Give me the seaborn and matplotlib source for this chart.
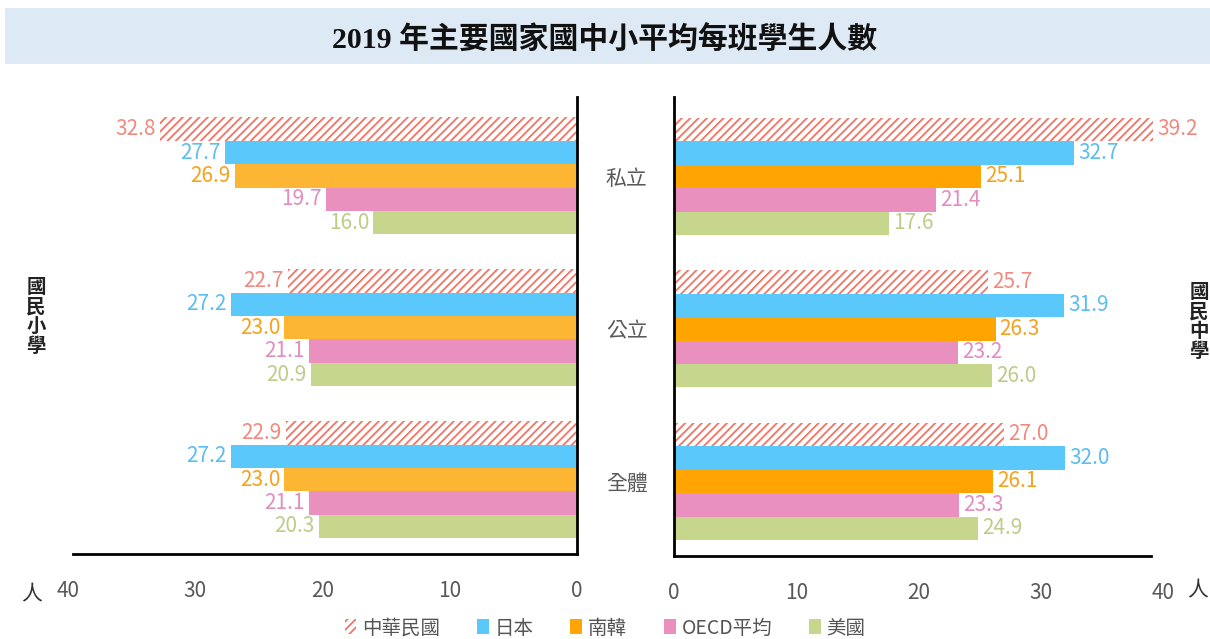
import pandas as pd
import seaborn as sns
import matplotlib.pyplot as plt
from matplotlib.patches import Patch, Rectangle

# ============ 資料 ============
schools = ["私立", "公立", "全體"]
countries = ["中華民國", "日本", "南韓", "OECD平均", "美國"]

# 國民小學 (左)
primary_twn = [32.8, 22.7, 22.9]
primary_jpn = [27.7, 27.2, 27.2]
primary_kor = [26.9, 23.0, 23.0]
primary_oecd = [19.7, 21.1, 21.1]
primary_usa = [16.0, 20.9, 20.3]

# 國民中學 (右)
junior_twn = [39.2, 25.7, 27.0]
junior_jpn = [32.7, 31.9, 32.0]
junior_kor = [25.1, 26.3, 26.1]
junior_oecd = [21.4, 23.2, 23.3]
junior_usa = [17.6, 26.0, 24.9]

x_ticks = [0, 10, 20, 30, 40]

bar_colors_left = ["#ffffff", "#5bc8fb", "#fdb534", "#ea90bf", "#c6d68c"]
bar_colors_right = ["#ffffff", "#5bc8fb", "#ffa400", "#ea90bf", "#c6d68c"]
label_colors = ["#f08a7e", "#5bbdf0", "#f5a21c", "#e38cc0", "#bccd8a"]
hatch_color = "#f27465"


def make_frame(vals):
    rows = []
    for country, series in zip(countries, vals):
        for school, v in zip(schools, series):
            rows.append({"school": school, "country": country, "value": v})
    return pd.DataFrame(rows)


df_left = make_frame([primary_twn, primary_jpn, primary_kor, primary_oecd, primary_usa])
df_right = make_frame([junior_twn, junior_jpn, junior_kor, junior_oecd, junior_usa])

sns.set_style("white")
plt.rcParams["font.family"] = ["Noto Sans CJK TC", "DejaVu Sans"]
plt.rcParams["hatch.linewidth"] = 1.3

fig = plt.figure(figsize=(12.1, 6.39), dpi=100)

# 標題區塊
fig.patches.append(Rectangle((5 / 1210, 1 - 64 / 639), 1205 / 1210, 56 / 639,
                             transform=fig.transFigure, facecolor="#dde9f5",
                             edgecolor="none", zorder=0))
fig.text(0.5, 1 - 40 / 639, "2019 年主要國家國中小平均每班學生人數",
         family=["Liberation Serif", "Noto Sans CJK TC"], fontweight="bold",
         fontsize=21.5, ha="center", va="center", color="#111111")

ax_l = fig.add_axes([68 / 1210, 1 - 554 / 639, 509 / 1210, 457 / 639])
ax_r = fig.add_axes([674 / 1210, 1 - 556 / 639, 489 / 1210, 459 / 639])


def draw_side(ax, df, palette, inverted):
    sns.barplot(data=df, y="school", x="value", hue="country", order=schools,
                hue_order=countries, palette=palette, orient="h", width=0.77,
                legend=False, ax=ax, saturation=1, linewidth=0)
    # 中華民國用斜線
    for bar in ax.containers[0]:
        bar.set_facecolor("white")
        bar.set_edgecolor(hatch_color)
        bar.set_hatch("////")
        bar.set_linewidth(0)
    # 數值標籤
    for cont, c in zip(ax.containers, label_colors):
        for bar in cont:
            w = bar.get_width()
            yc = bar.get_y() + bar.get_height() / 2
            if inverted:
                ax.annotate(f"{w:.1f}", (w, yc), xytext=(-3, 0), textcoords="offset points",
                            ha="right", va="center", color=c, fontsize=15)
            else:
                ax.annotate(f"{w:.1f}", (w, yc), xytext=(3, 0), textcoords="offset points",
                            ha="left", va="center", color=c, fontsize=15)
    ax.set_ylim(2.49, -0.52)
    ax.set_xticks(x_ticks)
    ax.set_xticklabels([str(t) for t in x_ticks])
    ax.tick_params(axis="x", length=0, pad=19, labelsize=15, labelcolor="#595959")
    ax.set_xlabel("")
    ax.set_ylabel("")
    for s in ax.spines.values():
        s.set_visible(False)
    ax.spines["bottom"].set_visible(True)
    ax.spines["bottom"].set_linewidth(2)
    ax.spines["bottom"].set_color("black")
    if inverted:
        ax.set_xlim(40, 0)
        ax.spines["bottom"].set_bounds(0, 39.6)
        ax.spines["right"].set_visible(True)
        ax.spines["right"].set_linewidth(2)
        ax.spines["right"].set_color("black")
        ax.set_yticks([])
    else:
        ax.set_xlim(0, 40)
        ax.spines["bottom"].set_bounds(0, 39)
        ax.spines["left"].set_visible(True)
        ax.spines["left"].set_linewidth(2)
        ax.spines["left"].set_color("black")
        ax.tick_params(axis="y", length=0, pad=19, labelsize=15, labelcolor="#595959")


draw_side(ax_l, df_left, bar_colors_left, True)
draw_side(ax_r, df_right, bar_colors_right, False)

# 側邊標籤
fig.text(36 / 1210, 1 - 317 / 639, "國\n民\n小\n學", fontsize=14, fontweight="bold",
         ha="center", va="center", linespacing=1.05, color="#222222")
fig.text(1199 / 1210, 1 - 322 / 639, "國\n民\n中\n學", fontsize=14, fontweight="bold",
         ha="center", va="center", linespacing=1.05, color="#222222")
fig.text(32 / 1210, 1 - 594 / 639, "人", fontsize=15, ha="center", va="center", color="#333333")
fig.text(1198 / 1210, 1 - 590 / 639, "人", fontsize=15, ha="center", va="center", color="#333333")

# 圖例
handles = [Patch(facecolor="white", edgecolor=hatch_color, hatch="////", linewidth=0)]
handles += [Patch(facecolor=c, edgecolor="none") for c in bar_colors_right[1:]]
fig.legend(handles, countries, loc="center", bbox_to_anchor=(0.5, 1 - 628 / 639),
           ncol=5, frameon=False, fontsize=14, handlelength=0.6, handleheight=0.8,
           handletextpad=0.3, columnspacing=1.9, labelcolor="#555555")

fig.savefig("out.png", dpi=100)
